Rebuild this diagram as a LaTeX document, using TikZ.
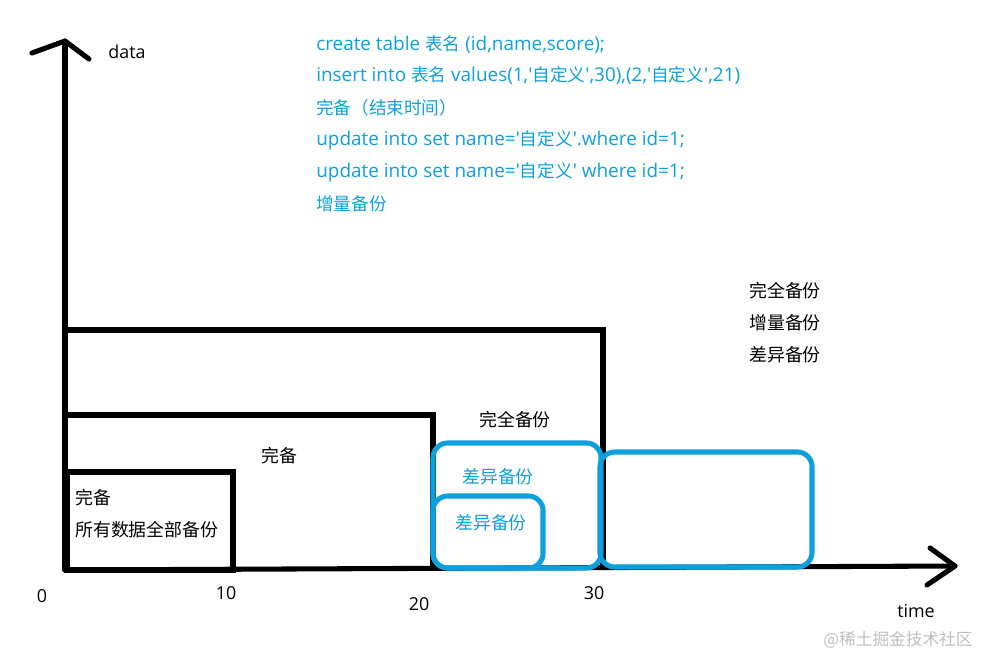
\documentclass[tikz,border=0pt]{standalone}
\usepackage{fontspec}
\newfontfamily\cjk{Noto Sans CJK SC}
\newfontfamily\lat{Open Sans}
\newcommand\zh[1]{{\cjk\fontsize{13.2pt}{15pt}\selectfont #1}}
\begin{document}
\begin{tikzpicture}[x=0.75pt,y=-0.75pt,
  ax/.style={line width=3.8pt,line cap=round,line join=round},
  blk/.style={line width=3.8pt,line join=miter},
  bluebox/.style={draw=bluec,line width=3.8pt,rounded corners=11pt},
  code/.style={anchor=west,inner sep=0pt,text=bluec,font=\lat\fontsize{14.2pt}{16pt}\selectfont},
  lbl/.style={inner sep=0pt,text=black,font=\cjk\fontsize{13.4pt}{15pt}\selectfont},
  num/.style={inner sep=0pt,text=black,font=\lat\fontsize{13.4pt}{15pt}\selectfont},
  bl/.style={inner sep=0pt,text=bluec,font=\cjk\fontsize{13.4pt}{15pt}\selectfont}]
\definecolor{bluec}{RGB}{14,160,220}
\useasboundingbox (0,0) rectangle (987,659);
% axes
\coordinate (O) at (65,570);
\coordinate (Ytop) at (65,41);
\coordinate (Xend) at (955,566);
\draw[ax] (O) -- (Ytop);
\draw[ax] (32,53) -- (Ytop) -- (89,59);
\draw[ax] (O) -- (Xend);
\draw[ax] (930,548) -- (Xend) -- (927,585);
% black boxes
\draw[blk] (65,330) -- (603,330) -- (603,570);
\draw[blk] (65,415) -- (433,415) -- (433,570);
\draw[blk] (67,472) rectangle (233,570);
% blue boxes
\draw[bluebox] (433,443) rectangle (601,568);
\draw[bluebox] (433,496) rectangle (543,568);
\draw[bluebox] (600,452) rectangle (812,567);
% code text
\node[code] (c1) at (316,45) {create table \zh{表名} (id,name,score);};
\node[code] (c2) at (316,76) {insert into \zh{表名} values(1,'\zh{自定义}',30),(2,'\zh{自定义}',21)};
\node[code] (c3) at (316,108) {\zh{完备（结束时间）}};
\node[code] (c4) at (316,140) {update into set name='\zh{自定义}'.where id=1;};
\node[code] (c5) at (316,172) {update into set name='\zh{自定义}' where id=1;};
\node[code] (c6) at (316,204) {\zh{增量备份}};
% right list
\node[lbl,anchor=west] (r1) at (749,291) {完全备份};
\node[lbl,anchor=west] (r2) at (749,323) {增量备份};
\node[lbl,anchor=west] (r3) at (749,355) {差异备份};
% labels
\node[num] (d) at (127,52) {data};
\node[lbl] (qb) at (515,420) {完全备份};
\node[lbl] (wb) at (279,456) {完备};
\node[lbl,anchor=west] (s1) at (75,498) {完备};
\node[lbl,anchor=west] (s2) at (75,530) {所有数据全部备份};
\node[bl] (cy1) at (498,477) {差异备份};
\node[bl] (cy2) at (491,523) {差异备份};
% ticks
\node[num] (t0) at (42,596) {0};
\node[num] (t10) at (226,593) {10};
\node[num] (t20) at (419,604) {20};
\node[num] (t30) at (594,593) {30};
\node[num] (tm) at (916,611) {time};
\node[inner sep=0pt,text=black!25,font=\cjk\fontsize{12.5pt}{14pt}\selectfont] (wm) at (898,640) {@稀土掘金技术社区};
\end{tikzpicture}
\end{document}
